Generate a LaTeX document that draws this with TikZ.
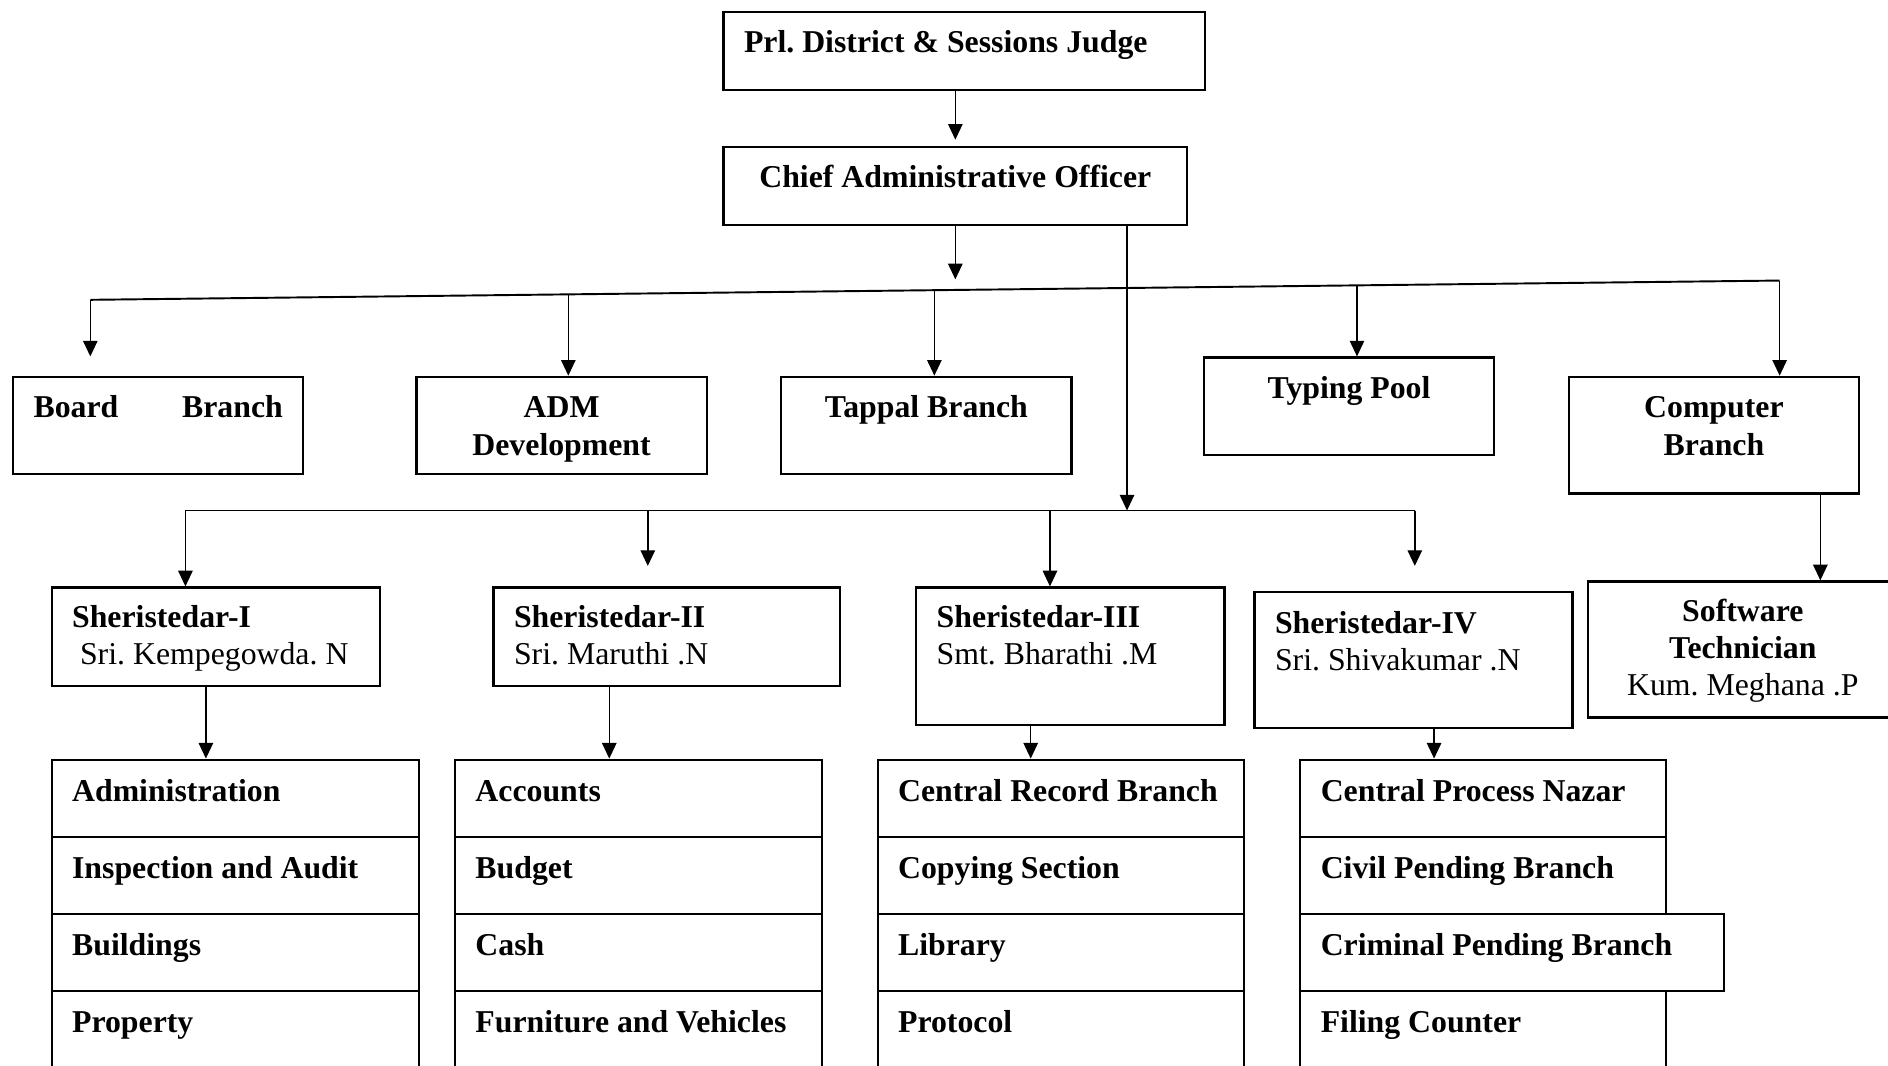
\documentclass[tikz,border=0pt]{standalone}
\usepackage{fontspec}
\setmainfont{Liberation Serif}
\frenchspacing
\usetikzlibrary{arrows.meta}
\tikzset{
  unit/.style={draw,line width=1.8pt,anchor=north west,inner xsep=17pt,inner ysep=0pt,
    font=\fontsize{26.4}{31}\selectfont\bfseries,text height=34pt},
  arr/.style={line width=1.2pt,-{Triangle[width=12pt,length=13pt]}},
  bus/.style={line width=1.6pt}
}
\begin{document}
\begin{tikzpicture}[x=1pt,y=-1pt]
\clip (0,0) rectangle (1568,885);
\node[unit,align=flush left,text width=366pt,text depth=31pt] (judge) at (600,9) {Prl. District \& Sessions Judge};
\node[unit,align=flush center,text width=351pt,text depth=31pt] (cao) at (600,121) {Chief Administrative Officer};
\node[unit,align=flush left,text width=207pt,text depth=47pt] (board) at (10,312) {Board\hfill Branch};
\node[unit,align=flush center,text width=207pt,text depth=47pt] (adm) at (345,312) {ADM\\Development};
\node[unit,align=flush center,text width=207pt,text depth=47pt] (tap) at (648,312) {Tappal Branch};
\node[unit,align=flush center,text width=207pt,text depth=47pt] (typ) at (999,296) {Typing Pool};
\node[unit,align=flush center,text width=207pt,text depth=63pt] (comp) at (1302,312) {Computer\\Branch};
\node[unit,align=flush left,text width=239pt,text height=33pt,text depth=49pt] (sh1) at (42,487) {Sheristedar-I\\\mdseries\hspace*{0.25em}Sri. Kempegowda. N};
\node[unit,align=flush left,text width=254pt,text height=33pt,text depth=49pt] (sh2) at (409,487) {Sheristedar-II\\\mdseries Sri. Maruthi .N};
\node[unit,align=flush left,text width=222pt,text height=33pt,text depth=81pt] (sh3) at (760,487) {Sheristedar-III\\\mdseries Smt. Bharathi .M};
\node[unit,align=flush left,text width=230pt,text depth=79pt] (sh4) at (1041,491) {Sheristedar-IV\\\mdseries Sri. Shivakumar .N};
\node[unit,align=flush center,text width=223pt,text height=33pt,text depth=80pt] (sw) at (1318,482) {Software\\Technician\\\mdseries Kum. Meghana .P};
\foreach \n/\x/\y/\w/\t in {ad/42/630/271/Administration,ia/42/694/271/Inspection and Audit,bd/42/758/271/Buildings,pr/42/822/271/Property,
  ac/377/630/271/Accounts,bu/377/694/271/Budget,ca/377/758/271/Cash,fv/377/822/271/Furniture and Vehicles,
  cr/728/630/270/Central Record Branch,cs/728/694/270/Copying Section,li/728/758/270/Library,pt/728/822/270/Protocol,
  cp/1079/630/270/Central Process Nazar,cv/1079/694/270/Civil Pending Branch,fc/1079/822/270/Filing Counter,cm/1079/758/318/Criminal Pending Branch} {
  \node[unit,align=flush left,text width=\w pt,text height=35pt,text depth=29pt] (\n) at (\x,\y) {\t};
}
\draw[arr,shorten >=5pt] (judge.south -| cao.north) -- (cao.north);
\coordinate (busL) at (75,249);
\coordinate (busR) at (1478,233);
\draw[bus] (busL) -- (busR);
\draw[arr,shorten >=17pt] (cao.south) -- (cao.south |- busL);
\draw[arr,shorten >=16pt] (busL) -- (busL |- board.north);
\draw[arr] (busR) -- (busR |- comp.north);
\foreach \n/\x in {adm/472,tap/776,typ/1127} {
  \path (busL) -- (busR) coordinate[pos=(\x-75)/1403] (b);
  \draw[arr] (b) -- (b |- \n.north);
}
\coordinate (lowL) at (154,424);
\coordinate (lowR) at (1175,424);
\coordinate (lowM) at (936,424);
\draw[bus] (lowL) -- (lowR);
\draw[arr] (cao.south -| lowM) -- (lowM);
\foreach \n/\x/\s in {sh1/154/0,sh2/538/17,sh3/872/0,sh4/1175/21} {
  \path (\x,424) coordinate (d);
  \draw[arr,shorten >=\s pt] (d) -- (d |- \n.north);
}
\draw[arr] ([xshift=-33pt]comp.south east) -- ([xshift=-33pt]comp.south east |- sw.north);
\foreach \a/\b/\d in {sh1/ad/129,sh2/ac/97,sh3/cr/96,sh4/cp/150} {
  \draw[arr] ([xshift=\d pt]\a.south west) -- ([xshift=\d pt]\a.south west |- \b.north);
}
\end{tikzpicture}
\end{document}
